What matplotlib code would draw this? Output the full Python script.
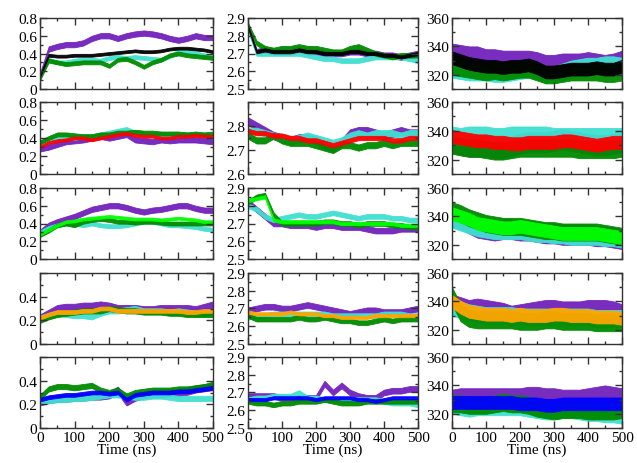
import numpy as np
import matplotlib
matplotlib.use('Agg')
import matplotlib.pyplot as plt
from matplotlib.ticker import FixedLocator, FixedFormatter, MultipleLocator

plt.rcParams['font.family'] = ['Liberation Serif', 'DejaVu Serif']
plt.rcParams['font.size'] = 11

# time axis (ns), one value every 25 ns
time_ns = list(range(0, 501, 25))

# column 1 (0 - 0.8), rows 1..5
col1_purple = [
    [0.15, 0.45, 0.48, 0.50, 0.50, 0.52, 0.57, 0.60, 0.60, 0.57, 0.60, 0.62, 0.63, 0.62, 0.60, 0.57, 0.55, 0.57, 0.60, 0.58, 0.58],
    [0.28, 0.30, 0.33, 0.36, 0.37, 0.38, 0.40, 0.42, 0.40, 0.42, 0.44, 0.38, 0.37, 0.36, 0.38, 0.37, 0.38, 0.38, 0.38, 0.37, 0.36],
    [0.30, 0.38, 0.42, 0.45, 0.48, 0.52, 0.56, 0.58, 0.60, 0.60, 0.58, 0.55, 0.53, 0.55, 0.56, 0.58, 0.60, 0.60, 0.57, 0.55, 0.55],
    [0.22, 0.26, 0.30, 0.31, 0.31, 0.32, 0.32, 0.33, 0.32, 0.30, 0.30, 0.30, 0.29, 0.29, 0.30, 0.30, 0.30, 0.30, 0.29, 0.31, 0.33],
    [0.22, 0.24, 0.25, 0.25, 0.26, 0.26, 0.27, 0.27, 0.28, 0.32, 0.22, 0.26, 0.28, 0.29, 0.29, 0.30, 0.30, 0.31, 0.33, 0.34, 0.35],
]
col1_cyan = [
    [0.15, 0.33, 0.30, 0.30, 0.32, 0.33, 0.33, 0.32, 0.35, 0.36, 0.35, 0.36, 0.35, 0.34, 0.33, 0.37, 0.42, 0.42, 0.40, 0.38, 0.36],
    [0.35, 0.38, 0.40, 0.42, 0.40, 0.42, 0.42, 0.44, 0.46, 0.48, 0.50, 0.46, 0.44, 0.44, 0.43, 0.42, 0.43, 0.44, 0.44, 0.43, 0.42],
    [0.30, 0.35, 0.38, 0.40, 0.40, 0.38, 0.40, 0.38, 0.37, 0.37, 0.38, 0.40, 0.42, 0.42, 0.40, 0.38, 0.38, 0.37, 0.36, 0.34, 0.33],
    [0.22, 0.24, 0.26, 0.25, 0.24, 0.24, 0.23, 0.26, 0.28, 0.28, 0.29, 0.30, 0.28, 0.28, 0.28, 0.27, 0.28, 0.27, 0.26, 0.26, 0.26],
    [0.22, 0.23, 0.24, 0.24, 0.25, 0.25, 0.26, 0.27, 0.28, 0.28, 0.27, 0.26, 0.26, 0.27, 0.27, 0.26, 0.25, 0.25, 0.25, 0.25, 0.25],
]
col1_green = [
    [0.12, 0.32, 0.30, 0.28, 0.29, 0.30, 0.30, 0.30, 0.26, 0.33, 0.34, 0.30, 0.25, 0.30, 0.33, 0.38, 0.40, 0.38, 0.37, 0.36, 0.35],
    [0.35, 0.40, 0.44, 0.44, 0.43, 0.42, 0.42, 0.44, 0.44, 0.46, 0.46, 0.47, 0.46, 0.46, 0.45, 0.45, 0.45, 0.44, 0.45, 0.44, 0.45],
    [0.27, 0.32, 0.38, 0.40, 0.38, 0.42, 0.44, 0.45, 0.44, 0.42, 0.42, 0.41, 0.42, 0.42, 0.41, 0.40, 0.40, 0.40, 0.40, 0.40, 0.40],
    [0.20, 0.23, 0.25, 0.26, 0.27, 0.28, 0.28, 0.28, 0.30, 0.29, 0.28, 0.28, 0.27, 0.27, 0.27, 0.26, 0.26, 0.25, 0.25, 0.25, 0.25],
    [0.26, 0.33, 0.35, 0.35, 0.34, 0.35, 0.36, 0.32, 0.30, 0.32, 0.27, 0.30, 0.31, 0.32, 0.32, 0.32, 0.33, 0.33, 0.34, 0.35, 0.37],
]
col1_main = [
    [0.15, 0.38, 0.37, 0.37, 0.38, 0.38, 0.38, 0.39, 0.40, 0.41, 0.42, 0.43, 0.42, 0.42, 0.43, 0.45, 0.46, 0.46, 0.45, 0.44, 0.42],
    [0.30, 0.35, 0.37, 0.38, 0.40, 0.40, 0.38, 0.40, 0.42, 0.44, 0.45, 0.43, 0.42, 0.42, 0.40, 0.40, 0.42, 0.42, 0.43, 0.42, 0.42],
    [0.28, 0.33, 0.38, 0.42, 0.43, 0.45, 0.46, 0.47, 0.48, 0.47, 0.46, 0.45, 0.45, 0.45, 0.44, 0.45, 0.46, 0.45, 0.44, 0.42, 0.42],
    [0.22, 0.25, 0.27, 0.27, 0.27, 0.28, 0.28, 0.30, 0.30, 0.28, 0.28, 0.28, 0.28, 0.28, 0.28, 0.28, 0.28, 0.27, 0.27, 0.28, 0.28],
    [0.24, 0.26, 0.27, 0.28, 0.28, 0.29, 0.30, 0.30, 0.29, 0.30, 0.24, 0.28, 0.29, 0.30, 0.30, 0.30, 0.31, 0.31, 0.32, 0.33, 0.34],
]

# column 2 (2.5 - 2.9)
col2_purple = [
    [2.85, 2.71, 2.72, 2.71, 2.71, 2.71, 2.72, 2.71, 2.71, 2.70, 2.70, 2.70, 2.71, 2.71, 2.70, 2.70, 2.69, 2.69, 2.68, 2.69, 2.70],
    [2.82, 2.80, 2.78, 2.76, 2.75, 2.74, 2.75, 2.75, 2.74, 2.72, 2.71, 2.73, 2.77, 2.78, 2.78, 2.77, 2.76, 2.77, 2.78, 2.77, 2.77],
    [2.82, 2.78, 2.74, 2.70, 2.70, 2.69, 2.69, 2.69, 2.68, 2.69, 2.69, 2.68, 2.68, 2.68, 2.67, 2.66, 2.66, 2.66, 2.67, 2.67, 2.67],
    [2.69, 2.70, 2.71, 2.71, 2.70, 2.70, 2.71, 2.72, 2.71, 2.70, 2.69, 2.68, 2.67, 2.68, 2.69, 2.69, 2.68, 2.68, 2.68, 2.69, 2.70],
    [2.68, 2.68, 2.68, 2.68, 2.67, 2.67, 2.67, 2.67, 2.67, 2.75, 2.70, 2.74, 2.70, 2.68, 2.67, 2.67, 2.70, 2.71, 2.71, 2.72, 2.72],
]
col2_cyan = [
    [2.84, 2.70, 2.70, 2.70, 2.70, 2.70, 2.70, 2.69, 2.68, 2.67, 2.67, 2.66, 2.66, 2.66, 2.67, 2.68, 2.68, 2.68, 2.68, 2.67, 2.66],
    [2.78, 2.78, 2.77, 2.76, 2.75, 2.74, 2.75, 2.76, 2.75, 2.74, 2.73, 2.74, 2.76, 2.77, 2.76, 2.77, 2.77, 2.77, 2.76, 2.77, 2.77],
    [2.80, 2.78, 2.74, 2.72, 2.73, 2.74, 2.75, 2.74, 2.74, 2.75, 2.76, 2.75, 2.74, 2.73, 2.74, 2.74, 2.74, 2.73, 2.73, 2.72, 2.72],
    [2.65, 2.66, 2.66, 2.67, 2.67, 2.67, 2.67, 2.67, 2.67, 2.67, 2.66, 2.66, 2.66, 2.66, 2.66, 2.66, 2.67, 2.67, 2.67, 2.66, 2.66],
    [2.66, 2.67, 2.67, 2.68, 2.68, 2.68, 2.70, 2.67, 2.67, 2.66, 2.66, 2.66, 2.66, 2.66, 2.66, 2.66, 2.65, 2.64, 2.64, 2.64, 2.63],
]
col2_green = [
    [2.86, 2.76, 2.73, 2.72, 2.73, 2.73, 2.74, 2.73, 2.73, 2.72, 2.71, 2.71, 2.73, 2.74, 2.72, 2.70, 2.69, 2.68, 2.69, 2.69, 2.69],
    [2.76, 2.74, 2.74, 2.76, 2.74, 2.73, 2.73, 2.73, 2.72, 2.71, 2.70, 2.72, 2.72, 2.71, 2.72, 2.72, 2.73, 2.72, 2.73, 2.73, 2.73],
    [2.82, 2.85, 2.86, 2.75, 2.70, 2.70, 2.70, 2.70, 2.70, 2.71, 2.71, 2.70, 2.70, 2.69, 2.70, 2.70, 2.70, 2.69, 2.69, 2.68, 2.68],
    [2.66, 2.64, 2.64, 2.64, 2.64, 2.64, 2.65, 2.64, 2.64, 2.65, 2.64, 2.63, 2.63, 2.62, 2.62, 2.63, 2.64, 2.63, 2.64, 2.64, 2.64],
    [2.65, 2.64, 2.64, 2.63, 2.64, 2.64, 2.65, 2.65, 2.65, 2.66, 2.65, 2.64, 2.64, 2.64, 2.65, 2.65, 2.65, 2.65, 2.65, 2.65, 2.65],
]
col2_main = [
    [2.85, 2.71, 2.72, 2.71, 2.71, 2.71, 2.72, 2.71, 2.71, 2.70, 2.70, 2.70, 2.71, 2.71, 2.70, 2.70, 2.69, 2.69, 2.68, 2.69, 2.70],
    [2.78, 2.77, 2.77, 2.76, 2.76, 2.75, 2.75, 2.74, 2.74, 2.73, 2.72, 2.73, 2.74, 2.75, 2.75, 2.75, 2.75, 2.74, 2.74, 2.75, 2.75],
    [2.83, 2.84, 2.85, 2.72, 2.71, 2.71, 2.71, 2.71, 2.71, 2.71, 2.71, 2.70, 2.70, 2.70, 2.70, 2.70, 2.70, 2.70, 2.69, 2.69, 2.69],
    [2.68, 2.67, 2.67, 2.67, 2.67, 2.68, 2.67, 2.67, 2.67, 2.66, 2.66, 2.65, 2.65, 2.65, 2.65, 2.66, 2.66, 2.66, 2.66, 2.66, 2.66],
    [2.66, 2.66, 2.66, 2.67, 2.67, 2.67, 2.67, 2.67, 2.66, 2.67, 2.67, 2.67, 2.67, 2.66, 2.66, 2.65, 2.66, 2.67, 2.67, 2.67, 2.67],
]

# column 3 (310 - 360)
col3_purple = [
    [335, 334, 333, 333, 331, 331, 330, 330, 330, 330, 329, 327, 327, 328, 328, 328, 329, 328, 327, 328, 330],
    [332, 330, 329, 329, 329, 328, 328, 329, 331, 332, 332, 332, 333, 334, 333, 332, 331, 330, 330, 331, 332],
    [340, 338, 335, 332, 331, 330, 331, 331, 330, 330, 329, 328, 328, 327, 327, 327, 327, 326, 326, 325, 324],
    [338, 336, 334, 335, 334, 333, 332, 330, 331, 332, 333, 334, 334, 333, 333, 333, 334, 334, 334, 333, 331],
    [330, 331, 331, 331, 331, 331, 331, 331, 331, 332, 332, 331, 331, 330, 330, 330, 331, 332, 333, 332, 331],
]
col3_cyan = [
    [324, 323, 322, 322, 322, 321, 321, 322, 323, 324, 323, 320, 320, 322, 324, 325, 326, 326, 327, 327, 326],
    [337, 336, 337, 337, 337, 336, 336, 337, 337, 337, 337, 337, 336, 336, 336, 336, 336, 336, 336, 336, 336],
    [338, 336, 334, 332, 331, 330, 330, 330, 330, 329, 328, 328, 327, 327, 326, 326, 326, 326, 325, 325, 324],
    [336, 334, 332, 331, 330, 330, 330, 330, 329, 329, 329, 329, 329, 329, 329, 329, 329, 328, 328, 328, 328],
    [326, 325, 324, 325, 325, 325, 325, 325, 325, 324, 323, 322, 322, 323, 323, 322, 321, 321, 320, 320, 319],
]
col3_green = [
    [326, 325, 324, 323, 322, 323, 322, 323, 324, 324, 322, 320, 320, 321, 322, 322, 322, 322, 321, 321, 322],
    [330, 329, 328, 328, 327, 326, 326, 327, 328, 328, 328, 328, 328, 328, 328, 327, 327, 327, 327, 327, 328],
    [344, 342, 339, 337, 335, 334, 333, 333, 333, 332, 331, 330, 330, 329, 329, 329, 329, 329, 328, 327, 326],
    [344, 332, 328, 327, 327, 327, 327, 327, 326, 326, 326, 327, 327, 326, 326, 326, 326, 325, 325, 325, 325],
    [327, 327, 326, 326, 326, 327, 328, 327, 327, 326, 324, 323, 322, 323, 323, 323, 322, 322, 322, 322, 323],
]
col3_main = [
    [332, 330, 328, 327, 326, 326, 325, 326, 326, 327, 325, 322, 322, 323, 324, 324, 324, 325, 324, 324, 326],
    [336, 335, 334, 333, 333, 332, 332, 331, 331, 332, 332, 332, 332, 333, 333, 332, 331, 330, 331, 332, 332],
    [342, 340, 338, 335, 334, 333, 332, 332, 333, 332, 331, 330, 329, 328, 328, 328, 328, 328, 327, 326, 325],
    [340, 336, 333, 332, 331, 331, 331, 330, 331, 330, 330, 330, 331, 331, 330, 330, 330, 329, 329, 329, 328],
    [328, 328, 328, 328, 328, 328, 328, 328, 327, 327, 327, 326, 326, 327, 327, 327, 327, 327, 327, 327, 327],
]

# colours (xmgrace-like)
c_purple = '#7221bc'
c_cyan = '#40e0d0'
c_green = '#008b00'
main_colors = ['black', 'red', '#00ff00', '#ffa500', 'blue']

# layout in pixels (637 x 464)
W, H = 637, 464
col_x = [(40, 213), (248, 418), (452, 622)]
row_y = [(19, 90), (103, 175), (189, 260), (274, 345), (358, 429)]

fig = plt.figure(figsize=(W / 100, H / 100), dpi=100)

cols = [
    (col1_purple, col1_cyan, col1_green, col1_main),
    (col2_purple, col2_cyan, col2_green, col2_main),
    (col3_purple, col3_cyan, col3_green, col3_main),
]
spread = [(0.03, 0.022, 0.022, 0.016), (0.016, 0.013, 0.013, 0.009), (7, 6, 6, 4.5)]

t = np.array(time_ns)
for ci, (x0, x1) in enumerate(col_x):
    for ri, (y0, y1) in enumerate(row_y):
        ax = fig.add_axes([x0 / W, 1 - y1 / H, (x1 - x0) / W, (y1 - y0) / H])
        series = cols[ci]
        colors = [c_purple, c_cyan, c_green, main_colors[ri]]
        for k in range(4):
            v = np.array(series[k][ri], dtype=float)
            s = spread[ci][k]
            ax.fill_between(t, v - s, v + s, color=colors[k], lw=0.6, alpha=0.95)

        ax.set_xlim(0, 500)
        ax.xaxis.set_major_locator(MultipleLocator(100))
        ax.xaxis.set_minor_locator(MultipleLocator(50))
        if ri < 4:
            ax.set_xticklabels([])
        else:
            ax.set_xlabel('Time (ns)', labelpad=-1)

        if ci == 0:
            if ri < 3:
                ax.set_ylim(0, 0.8)
                yt = [0, 0.2, 0.4, 0.6, 0.8]
                yl = ['0', '0.2', '0.4', '0.6', '0.8']
            else:
                ax.set_ylim(0, 0.6)
                yt = [0, 0.2, 0.4, 0.6]
                yl = ['0', '0.2', '0.4', '']
            ax.yaxis.set_minor_locator(MultipleLocator(0.1))
        elif ci == 1:
            if ri == 1:
                ax.set_ylim(2.6, 2.9)
                yt = [2.6, 2.7, 2.8, 2.9]
                yl = ['2.6', '2.7', '2.8', '']
            else:
                ax.set_ylim(2.5, 2.9)
                yt = [2.5, 2.6, 2.7, 2.8, 2.9]
                yl = ['2.5', '2.6', '2.7', '2.8', '2.9']
            ax.yaxis.set_minor_locator(MultipleLocator(0.05))
        else:
            ax.set_ylim(310, 360)
            yt = [320, 340, 360]
            yl = ['320', '340', '360']
            ax.yaxis.set_minor_locator(FixedLocator([310, 330, 350]))
        ax.yaxis.set_major_locator(FixedLocator(yt))
        ax.yaxis.set_major_formatter(FixedFormatter(yl))

        ax.tick_params(which='both', direction='in', top=True, right=True,
                       color='#333333', labelsize=11, pad=2)
        ax.tick_params(which='major', length=5, width=1)
        ax.tick_params(which='minor', length=2.5, width=1)
        for sp in ax.spines.values():
            sp.set_color('#333333')
            sp.set_linewidth(1)

fig.savefig('out.png', dpi=100)
